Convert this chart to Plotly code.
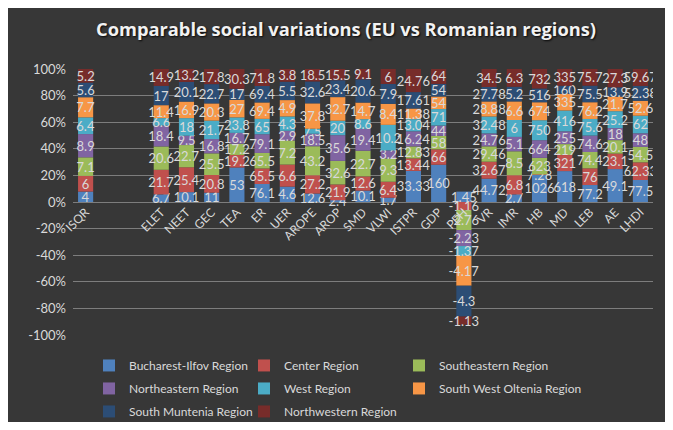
import plotly.graph_objects as go

# categories (two blank slots between ISQR and ELET, as in the source chart)
categories = ["ISQR", " ", "  ", "ELET", "NEET", "GEC", "TEA", "ER", "UER", "AROPE", "AROP",
              "SMD", "VLWI", "ISTPR", "GDP", "PEH", "VR", "IMR", "HB", "MD", "LEB", "AE", "LHDI"]

bucharest_ilfov = [4, None, None, 6.7, 10.1, 11, 53, 76.1, 4.6, 12.6, 2.4, 10.1, 1.7, 33.33, 160,
                   1.45, 44.72, 2.7, 1026, 618, 77.2, 49.1, 77.5]
center = [6, None, None, 21.7, 25.4, 20.8, 19.2, 65.5, 6.6, 27.2, 21.9, 12.6, 6.4, 13.44, 66,
          -1.16, 32.67, 6.8, 7.28, 321, 76, 23.1, 62.33]
southeastern = [7.1, None, None, 20.6, 22.7, 25.5, 17.2, 65.5, 7.2, 43.2, 32.6, 22.7, 9.3, 12.83, 58,
                -2.76, 29.46, 8.5, 623, 219, 74.4, 20.1, 54.5]
northeastern = [8.9, None, None, 18.4, 9.5, 16.8, 16.7, 79.1, 2.9, 18.5, 35.6, 19.4, 3.2, 16.24, 44,
                -2.23, 24.76, 5.1, 664, 255, 74.6, 18, 48]
west = [6.4, None, None, 6.6, 18, 21.7, 23.8, 65, 4.3, 7.5, 20, 8.6, 10.2, 13.04, 71,
        -1.37, 32.48, 6, 750, 416, 75.6, 25.2, 62]
sw_oltenia = [7.7, None, None, 11.4, 16.9, 20.3, 27, 69.4, 4.9, 37.8, 32.7, 14.7, 8.4, 11.38, 54,
              -4.17, 28.88, 6.6, 674, 335, 76.2, 21.7, 52.6]
south_muntenia = [5.6, None, None, 17, 20.1, 22.7, 17, 69.4, 5.5, 32.6, 23.4, 20.6, 7.9, 17.61, 54,
                  -4.3, 27.78, 5.2, 516, 160, 75.5, 13.9, 52.38]
northwestern = [5.2, None, None, 14.9, 13.2, 17.8, 30.3, 71.8, 3.8, 18.5, 15.5, 9.1, 6, 24.76, 64,
                -1.13, 34.5, 6.3, 732, 335, 75.7, 27.3, 59.67]

ytick_vals = [-100, -80, -60, -40, -20, 0, 20, 40, 60, 80, 100]
ytick_text = ["-100%", "-80%", "-60%", "-40%", "-20%", "0%", "20%", "40%", "60%", "80%", "100%"]

series = [
    ("Bucharest-Ilfov Region", bucharest_ilfov, "#4F81BD", "legend"),
    ("Center Region", center, "#C0504D", "legend2"),
    ("Southeastern Region", southeastern, "#9BBB59", "legend3"),
    ("Northeastern Region", northeastern, "#8064A2", "legend"),
    ("West Region", west, "#4BACC6", "legend2"),
    ("South West Oltenia Region", sw_oltenia, "#F79646", "legend3"),
    ("South Muntenia Region", south_muntenia, "#2C4D75", "legend"),
    ("Northwestern Region", northwestern, "#772C2A", "legend2"),
]

# 100% stacking like Excel: share of the sum of absolute values per category
totals = []
for i in range(len(categories)):
    vals = [s[1][i] for s in series if s[1][i] is not None]
    totals.append(sum(abs(v) for v in vals) if vals else None)

# page body adds an 8px margin, so the figure is a bit smaller than the window
W, H = 657, 414
ML, MR, MT, MB = 65, 12, 61, 87
PW, PH = W - ML - MR, H - MT - MB

FONT = "Lato, 'Open Sans', sans-serif"
LBL = "#d9d9d9"

fig = go.Figure()
for name, vals, color, leg in series:
    pct = [None if v is None else v / t * 100 for v, t in zip(vals, totals)]
    txt = ["" if v is None else f"{v:g}" for v in vals]
    fig.add_trace(go.Bar(
        x=categories, y=pct, name=name, legend=leg, legendgroup=name,
        marker=dict(color=color, line=dict(width=0)),
        text=txt, textposition="inside", insidetextanchor="middle",
        textangle=0, constraintext="none",
        textfont=dict(color=LBL, size=13, family=FONT),
        hoverinfo="skip",
    ))

leg_common = dict(orientation="v", yanchor="top", xanchor="left", traceorder="grouped",
                  bgcolor="rgba(0,0,0,0)", font=dict(color=LBL, size=12, family=FONT),
                  tracegroupgap=4, itemclick=False, itemwidth=30, y=-0.06)

fig.update_layout(
    width=W, height=H,
    margin=dict(l=ML, r=MR, t=MT, b=MB, autoexpand=False),
    paper_bgcolor="#373737",
    plot_bgcolor="rgba(0,0,0,0)",
    barmode="relative", bargap=0.4,
    font=dict(family=FONT, color=LBL),
    title=dict(text="<b>Comparable social variations (EU vs Romanian regions)</b>",
               x=338 / W, xref="container", xanchor="center",
               y=1 - 22 / H, yref="container", yanchor="middle",
               font=dict(size=18.3, color="#f2f2f2", family="'Open Sans', sans-serif",
                         shadow="1px 1px 2px rgba(0,0,0,0.9)")),
    legend=dict(x=(81 - ML) / PW, **leg_common),
    legend2=dict(x=(236 - ML) / PW, **leg_common),
    legend3=dict(x=(391 - ML) / PW, **leg_common),
)

fig.update_yaxes(range=[-100, 100], tickvals=ytick_vals, ticktext=ytick_text,
                 showgrid=True, gridcolor="rgba(210,210,210,0.45)", gridwidth=1,
                 zeroline=True, zerolinecolor="rgba(210,210,210,0.45)", zerolinewidth=1,
                 tickfont=dict(color=LBL, size=13, family=FONT), ticks="", showline=False,
                 ticklabelstandoff=6)
fig.update_xaxes(anchor="free", position=0.5, tickangle=-45, showgrid=False,
                 showline=False, ticks="", categoryorder="array", categoryarray=categories,
                 tickfont=dict(color=LBL, size=12, family=FONT))

fig.write_html("out.html")
